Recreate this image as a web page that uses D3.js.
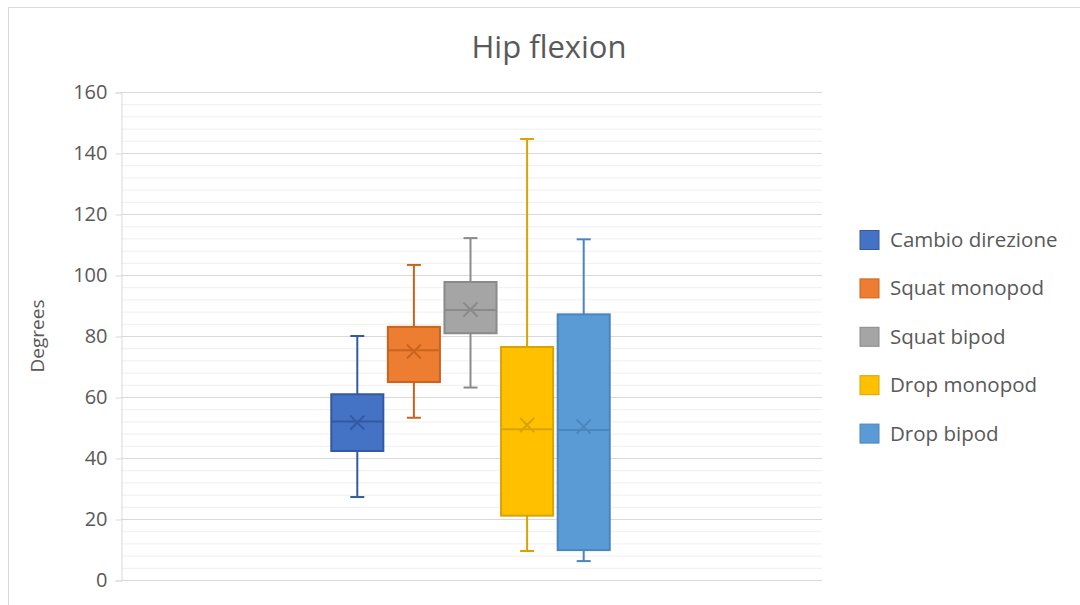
<!DOCTYPE html>
<html><head><meta charset="utf-8">
<script src="https://cdn.jsdelivr.net/npm/d3@7"></script>
<style>body{margin:0;background:#fff;}svg{display:block;font-family:"Open Sans","Noto Sans",sans-serif;}</style>
</head><body><svg id="c" width="1080" height="605"></svg>
<script>
const series = ["Cambio direzione","Squat monopod","Squat bipod","Drop monopod","Drop bipod"];
const whiskerLow  = [27.2, 53.2, 63.1, 9.5, 6.2];
const q1          = [42.3, 64.9, 80.9, 21.1, 9.8];
const median      = [52.0, 75.3, 88.5, 49.4, 49.2];
const mean        = [51.6, 74.9, 88.7, 50.8, 50.3];
const q3          = [60.9, 83.0, 97.7, 76.4, 87.1];
const whiskerHigh = [80.0, 103.3, 112.1, 144.6, 111.7];
const yTicks = [0,20,40,60,80,100,120,140,160];
const fills  = ["#4472C4","#ED7D31","#A5A5A5","#FFC000","#5B9BD5"];
const strokes= ["#335AA1","#C8641F","#8A8A8A","#D9A300","#4A86BE"];
const FONT = '"Open Sans","Noto Sans",sans-serif';

const svg = d3.select("#c");
svg.append("rect").attr("x",8.5).attr("y",7.5).attr("width",1080).attr("height",600).attr("fill","#fff").attr("stroke","#d9d9d9");

const L=121,R=822,T=92,B=580;
const y = d3.scaleLinear().domain([0,160]).range([B,T]);
const x = d3.scaleBand().domain(series).range([329,612]).paddingInner(0.08).paddingOuter(0.04);

// minor gridlines
const minor = d3.range(0,161,4).filter(v=>v%20!==0);
svg.append("g").selectAll("line").data(minor).join("line")
  .attr("x1",L).attr("x2",R).attr("y1",d=>y(d)+0.5).attr("y2",d=>y(d)+0.5)
  .attr("stroke","#efefef").attr("stroke-width",1);
// major gridlines
svg.append("g").selectAll("line").data(yTicks).join("line")
  .attr("x1",L).attr("x2",R).attr("y1",d=>y(d)+0.5).attr("y2",d=>y(d)+0.5)
  .attr("stroke","#d9d9d9").attr("stroke-width",1);

// y axis
const ya = svg.append("g").attr("transform",`translate(${L+0.5},0.5)`)
  .call(d3.axisLeft(y).tickValues(yTicks).tickSize(6).tickPadding(8));
ya.attr("font-family",FONT);
ya.select(".domain").attr("stroke","#d9d9d9");
ya.selectAll(".tick line").attr("stroke","#d9d9d9");
ya.selectAll(".tick text").attr("fill","#595959").attr("font-size","20px").attr("font-family",FONT);

svg.append("text").attr("transform","translate(44,336) rotate(-90)")
  .attr("text-anchor","middle").attr("fill","#595959").attr("font-size","19px").text("Degrees");

svg.append("text").attr("x",549).attr("y",58).attr("text-anchor","middle")
  .attr("fill","#595959").attr("font-size","31px").text("Hip flexion");

// boxes
const g = svg.append("g");
series.forEach((s,i)=>{
  const x0 = x(s), w = x.bandwidth(), cx = x0 + w/2;
  const capW = 14;
  g.append("line").attr("x1",cx).attr("x2",cx).attr("y1",y(whiskerHigh[i])).attr("y2",y(q3[i]))
    .attr("stroke",strokes[i]).attr("stroke-width",2);
  g.append("line").attr("x1",cx).attr("x2",cx).attr("y1",y(q1[i])).attr("y2",y(whiskerLow[i]))
    .attr("stroke",strokes[i]).attr("stroke-width",2);
  [whiskerHigh[i],whiskerLow[i]].forEach(v=>{
    g.append("line").attr("x1",cx-capW/2).attr("x2",cx+capW/2).attr("y1",y(v)).attr("y2",y(v))
      .attr("stroke",strokes[i]).attr("stroke-width",2);
  });
  g.append("rect").attr("x",x0).attr("y",y(q3[i])).attr("width",w).attr("height",y(q1[i])-y(q3[i]))
    .attr("fill",fills[i]).attr("stroke",strokes[i]).attr("stroke-width",2);
  g.append("line").attr("x1",x0).attr("x2",x0+w).attr("y1",y(median[i])).attr("y2",y(median[i]))
    .attr("stroke",strokes[i]).attr("stroke-width",2);
  const my = y(mean[i]), r=7;
  g.append("path").attr("d",`M${cx-r},${my-r}L${cx+r},${my+r}M${cx-r},${my+r}L${cx+r},${my-r}`)
    .attr("stroke",strokes[i]).attr("stroke-width",2).attr("fill","none");
});

// legend
const lg = svg.append("g");
series.forEach((s,i)=>{
  const cy = 240 + i*48.4;
  lg.append("rect").attr("x",860).attr("y",cy-9.5).attr("width",19).attr("height",19)
    .attr("fill",fills[i]).attr("stroke",strokes[i]).attr("stroke-width",1);
  lg.append("text").attr("x",890).attr("y",cy+7).attr("fill","#595959").attr("font-size","20.5px").text(s);
});
</script></body></html>
